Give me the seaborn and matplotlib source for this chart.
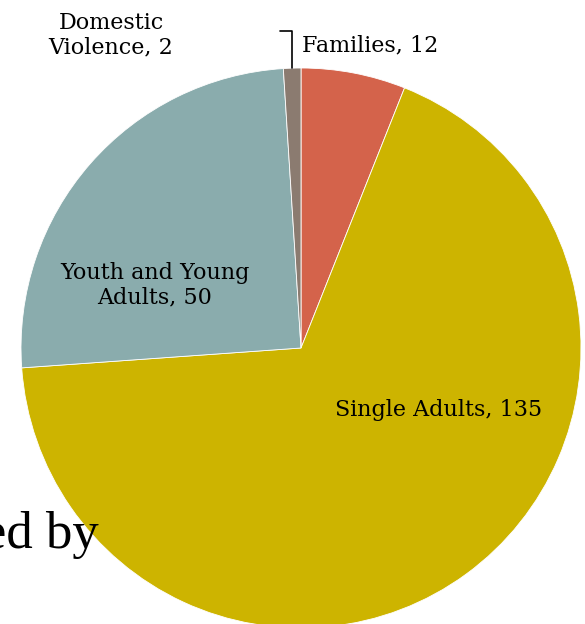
import numpy as np
import matplotlib
matplotlib.use("Agg")
import matplotlib.pyplot as plt
import seaborn as sns

# data
categories = ["Families", "Single Adults", "Youth and Young\nAdults", "Domestic\nViolence"]
counts = [12, 135, 50, 2]
colors = ["#D4634B", "#CDB400", "#8AACAD", "#8B7B70"]

sns.set_theme(style="white")
plt.rcParams["font.family"] = ["DejaVu Serif"]
plt.rcParams["text.color"] = "black"

W, H = 585, 624
fig = plt.figure(figsize=(W / 100, H / 100), dpi=100)
ax = fig.add_axes([0, 0, 1, 1])

cx, cy, r = 301, H - 348, 280
wedges, _ = ax.pie(counts, colors=sns.color_palette(colors), startangle=90,
                   counterclock=False, center=(cx, cy), radius=r,
                   wedgeprops=dict(edgecolor="white", linewidth=0.6), frame=True)
ax.set_xlim(0, W)
ax.set_ylim(0, H)
ax.set_aspect("equal")
ax.axis("off")

fs = 16
lab = [f"{c}, {v}" for c, v in zip(categories, counts)]
ax.text(302, H - 45, lab[0], ha="left", va="center", fontsize=fs)
ax.text(439, H - 410, lab[1], ha="center", va="center", fontsize=fs)
ax.text(155, H - 285, lab[2], ha="center", va="center", fontsize=fs, linespacing=1.15)
ax.text(111, H - 35, lab[3], ha="center", va="center", fontsize=fs, linespacing=1.15)

# leader line to the Domestic Violence wedge
w = wedges[3]
mid = np.deg2rad((w.theta1 + w.theta2) / 2)
ex, ey = cx + r * np.cos(mid), cy + r * np.sin(mid)
ax.plot([ex - 12, ex, ex], [H - 31, H - 31, ey], color="black", lw=1.2)

# cut-off slide title text
ax.text(99, H - 548, "ed by", ha="right", va="baseline", fontsize=38,
        family=["Liberation Serif"], zorder=5)

fig.savefig("out.png", dpi=100)
